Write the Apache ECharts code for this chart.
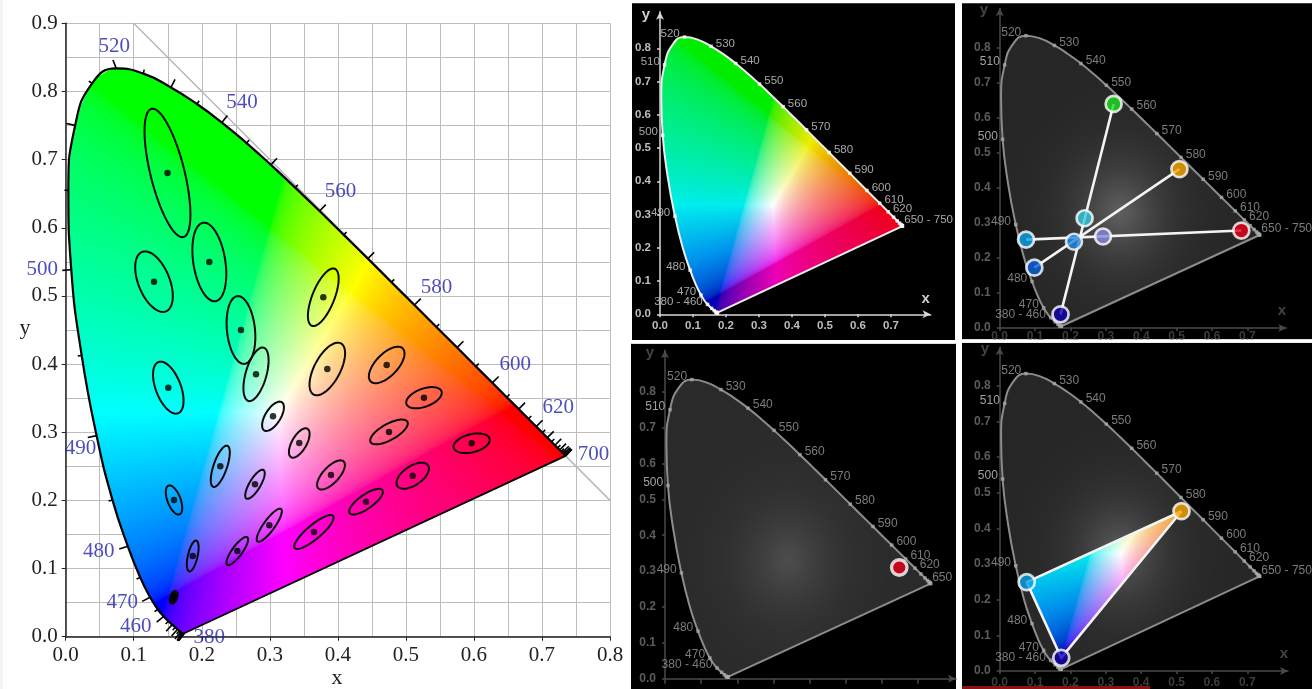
<!DOCTYPE html>
<html><head><meta charset="utf-8">
<style>html,body{margin:0;padding:0;background:#fff}#c{width:1315px;height:689px}</style>
<script src="https://cdn.jsdelivr.net/npm/echarts@6/dist/echarts.min.js"></script>
</head><body><div id="c"></div>
<script>
// ---------- data ----------
const wavelengths = [380,385,390,395,400,405,410,415,420,425,430,435,440,445,450,455,460,465,470,475,480,485,490,495,500,505,510,515,520,525,530,535,540,545,550,555,560,565,570,575,580,585,590,595,600,605,610,615,620,625,630,635,640,645,650,655,660,665,670,675,680,685,690,695,700];
const locusX = [.1741,.1740,.1738,.1736,.1733,.1730,.1726,.1721,.1714,.1703,.1689,.1669,.1644,.1611,.1566,.1510,.1440,.1355,.1241,.1096,.0913,.0687,.0454,.0235,.0082,.0039,.0139,.0389,.0743,.1142,.1547,.1929,.2296,.2658,.3016,.3373,.3731,.4087,.4441,.4788,.5125,.5448,.5752,.6029,.6270,.6482,.6658,.6801,.6915,.7006,.7079,.7140,.7190,.7230,.7260,.7283,.7300,.7311,.7320,.7327,.7334,.7340,.7344,.7346,.7347];
const locusY = [.0050,.0050,.0049,.0049,.0048,.0048,.0048,.0048,.0051,.0058,.0069,.0086,.0109,.0138,.0177,.0227,.0297,.0399,.0578,.0868,.1327,.2007,.2950,.4127,.5384,.6548,.7502,.8120,.8338,.8262,.8059,.7816,.7543,.7243,.6923,.6589,.6245,.5896,.5547,.5202,.4866,.4544,.4242,.3965,.3725,.3514,.3340,.3197,.3083,.2993,.2920,.2859,.2809,.2770,.2740,.2717,.2700,.2689,.2680,.2673,.2666,.2660,.2656,.2654,.2653];
const ellipseCx = [.1496,.2111,.1298,.2576,.2797,.1508,.1592,.1867,.1587,.2272,.3047,.3433,.2782,.2992,.2522,.3649,.3899,.4414,.51,.5967,.4752,.5266,.4718,.3845,.3786];
const ellipseCy = [.6804,.5498,.5209,.45,.385,.3654,.2006,.1184,.0578,.25,.3234,.2842,.2236,.1635,.1257,.1536,.2373,.1981,.2362,.2838,.3004,.3507,.3987,.3928,.498];
const ellipseA  = [.097,.0583,.047,.05,.0407,.0403,.0226,.0232,.0096,.0319,.0244,.0241,.0244,.0294,.025,.0368,.0272,.0294,.0272,.0272,.0309,.0274,.0338,.0426,.0451];
const ellipseB  = [.025,.0235,.023,.0206,.0153,.0184,.0096,.0071,.0051,.0099,.0112,.0107,.0081,.0081,.0074,.0103,.0118,.0103,.014,.0132,.0118,.0132,.0162,.0191,.0162];
const ellipseAngle = [104,99,112,96,74,111,111,77,70,71,58,60,59,54,54,40,47,35,34,14,29,20,46,62,68];
const leftWaveLabels = [520,540,560,580,600,620,700,500,490,480,470,460,380];
const axisValues = [0,.1,.2,.3,.4,.5,.6,.7,.8];
const rightLabels = [[520,'520','L'],[530,'530','R'],[540,'540','R'],[550,'550','R'],[560,'560','R'],[570,'570','R'],[580,'580','R'],[590,'590','R'],[600,'600','R'],[610,'610','R'],[620,'620','R'],[650,'650 - 750','R'],[510,'510','L'],[500,'500','L'],[490,'490','L'],[480,'480','L'],[470,'470','L'],[460,'380 - 460','L']];
// panel 2: three crossing lines through named points
const p2Names  = ['green','amber','red','cyan','sky','mid','violet','blue','navy'];
const p2X      = [.322,.508,.683,.24,.0745,.21,.292,.098,.172];
const p2Y      = [.639,.453,.278,.313,.252,.246,.261,.172,.039];
const p2Lines  = [['green','navy'],['amber','blue'],['sky','red']];
const p3X = [.648], p3Y = [.31];
const p4X = [.514,.0763,.174], p4Y = [.448,.249,.037];

// ---------- style ----------
const p2Colors = ['#22e022','#f5a800','#e8001a','#3cc8e0','#0ca0e8','#1e88e0','#8888e0','#0a60d8','#1000b0'];
const p4Colors = ['#f5a800','#0ca0e8','#1000b0'];
const leftLabelOffset = {520:[-2,-22],540:[20,-20],560:[21,-20],580:[22,-18],600:[23,-18],620:[22,-19],700:[28,-1],500:[-29,0],490:[-16,13],480:[-29,5],470:[-28,5],460:[-28,10],380:[25,4]};

function rgbOf(x,y){
  const z=1-x-y;
  let r=3.2406*x-1.5372*y-.4986*z, g=-.9689*x+1.8758*y+.0415*z, b=.0557*x-.204*y+1.057*z;
  r=Math.max(r,0);g=Math.max(g,0);b=Math.max(b,0);
  const m=Math.max(r,g,b)||1;
  return [Math.pow(r/m,1/2.2),Math.pow(g/m,1/2.2),Math.pow(b/m,1/2.2)];
}
const vivid=(x,y)=>rgbOf(x,y).map(v=>v*255);
const soft=(x,y)=>{
  const c=rgbOf(x-.03,y);
  const mn=Math.min(c[0],c[1],c[2]);
  const k=.93+.07*mn;
  const blueDark=.76+.24*Math.min(1,mn*3+c[1]*1.6);
  return [c[0]*k*255,c[1]*k*255,c[2]*k*blueDark*255];
};
const glow=(peak,base)=>(x,y)=>{
  const dx=(x-.34)/.12, dy=(y-.33)/.14;
  const d=Math.sqrt(dx*dx+dy*dy);
  const v=base+(peak-base)*Math.exp(-Math.pow(d,1.4));
  return [v,v,v];
};
// Catmull-Rom path of the spectral arc, only used to shape the colour mask
function arcPath(ctx,toPx){
  const n=locusPts.length;
  for(let i=0;i<n-1;i++){
    const p0=locusPts[Math.max(0,i-1)],p1=locusPts[i],p2=locusPts[i+1],p3=locusPts[Math.min(n-1,i+2)];
    for(let s=0;s<8;s++){
      const t=s/8,t2=t*t,t3=t2*t;
      const f=d=>.5*(2*p1[d]+(p2[d]-p0[d])*t+(2*p0[d]-5*p1[d]+4*p2[d]-p3[d])*t2+(3*p1[d]-p0[d]-3*p2[d]+p3[d])*t3);
      const q=toPx(f(0),f(1));
      (i||s)?ctx.lineTo(q[0],q[1]):ctx.moveTo(q[0],q[1]);
    }
  }
  const e=toPx(locusPts[n-1][0],locusPts[n-1][1]);ctx.lineTo(e[0],e[1]);
}
function paint(colorFn,xmax,ymax,poly){
  const W=Math.round(xmax*800),H=Math.round(ymax*800);
  const cv=document.createElement('canvas');cv.width=W;cv.height=H;
  const ctx=cv.getContext('2d');
  const img=ctx.createImageData(W,H);
  for(let j=0;j<H;j++){
    const y=ymax*(1-(j+.5)/H);
    for(let i=0;i<W;i++){
      const x=xmax*(i+.5)/W;
      const c=colorFn(x,y),o=(j*W+i)*4;
      img.data[o]=c[0];img.data[o+1]=c[1];img.data[o+2]=c[2];img.data[o+3]=255;
    }
  }
  ctx.putImageData(img,0,0);
  ctx.globalCompositeOperation='destination-in';
  ctx.beginPath();
  const toPx=(a,b)=>[a/xmax*W,(1-b/ymax)*H];
  if(poly) poly.forEach((p,i)=>{const q=toPx(p[0],p[1]);i?ctx.lineTo(q[0],q[1]):ctx.moveTo(q[0],q[1]);});
  else arcPath(ctx,toPx);
  ctx.closePath();ctx.fill();
  return cv;
}
const locusPts=wavelengths.map((w,i)=>[locusX[i],locusY[i]]);
const purpleLine=[locusPts[locusPts.length-1],locusPts[0]];
const grids=[],xAxes=[],yAxes=[],series=[];
function imageSeries(idx,canvas,xmax,ymax,z){
  return {type:'custom',xAxisIndex:idx,yAxisIndex:idx,z,silent:true,clip:false,data:[[0,0]],encode:{x:0,y:1},
    renderItem:(p,api)=>{const a=api.coord([0,ymax]),b=api.coord([xmax,0]);
      return {type:'image',style:{image:canvas,x:a[0],y:a[1],width:b[0]-a[0],height:b[1]-a[1]}};}};
}
function outlineSeries(idx,pts,color,width,z,smooth){
  return {type:'line',xAxisIndex:idx,yAxisIndex:idx,data:pts,showSymbol:false,smooth:!!smooth,smoothConstraint:false,silent:true,z,clip:false,
    lineStyle:{color,width,join:'round'},animation:false};
}
function darkPanel(idx,cfg){
  grids.push({left:cfg.x0,top:cfg.y0-cfg.ymax*cfg.sy,width:cfg.xmax*cfg.sx,height:cfg.ymax*cfg.sy});
  const xv=axisValues.slice(0,8),yv=axisValues;
  const axisLine={show:true,onZero:false,lineStyle:{color:cfg.axis,width:cfg.axisW},symbol:['none','arrow'],symbolSize:[6,8]};
  xAxes.push({type:'value',gridIndex:idx,min:0,max:cfg.xmax,splitLine:{show:false},axisLine,
    axisTick:{show:true,customValues:xv,length:cfg.tick||3,lineStyle:{color:cfg.axis,width:cfg.axisW}},
    axisLabel:{show:cfg.xLabels!==false,customValues:xv,margin:cfg.xMargin,color:cfg.xLabel,fontFamily:'Liberation Sans',fontSize:cfg.font,fontWeight:'bold',formatter:v=>v.toFixed(1)}});
  yAxes.push({type:'value',gridIndex:idx,min:0,max:cfg.ymax,splitLine:{show:false},axisLine,
    axisTick:{show:true,customValues:yv,length:3,lineStyle:{color:cfg.axis,width:cfg.axisW}},
    axisLabel:{customValues:yv,margin:9,color:cfg.yLabel,fontFamily:'Liberation Sans',fontSize:cfg.font,fontWeight:'bold',padding:[0,0,6,0],formatter:v=>v.toFixed(1)}});
  series.push(imageSeries(idx,paint(cfg.fill,.8,.9),.8,.9,1));
  series.push(outlineSeries(idx,locusPts,cfg.locus,cfg.locusW,2,true));
  series.push(outlineSeries(idx,purpleLine,cfg.locus,cfg.locusW,2));
  // wavelength squares every 10 nm, some of them labelled
  const sq=[];
  wavelengths.forEach((w,i)=>{
    if(w%10) return;
    const lab=rightLabels.find(r=>r[0]===w);
    const item={value:[locusX[i],locusY[i]]};
    if(lab){
      const isLeft=lab[2]==='L';
      let text=lab[1];
      if(cfg.tail&&w===650) text=cfg.tail;
      item.label={show:true,formatter:text,position:isLeft?'left':'right',distance:3,offset:[0,-3],
        color:(w===500||w===510)?cfg.bright:cfg.text,fontFamily:'Liberation Sans',fontSize:cfg.labelFont};
    }
    sq.push(item);
  });
  series.push({type:'scatter',xAxisIndex:idx,yAxisIndex:idx,symbol:'rect',symbolSize:3.5,z:6,clip:false,silent:true,
    itemStyle:{color:cfg.square},data:sq});
}
// ---------- panel 0: left ----------
grids.push({left:65.7,top:23.3,width:544.3,height:613.4});
const leftAxisBase=(max)=>({type:'value',min:0,max,interval:.1,
  axisLine:{show:true,onZero:false,lineStyle:{color:'#222',width:1.5}},
  axisTick:{show:true,length:4,lineStyle:{color:'#222',width:1}},
  minorTick:{show:false,splitNumber:2},
  splitLine:{show:true,lineStyle:{color:'#bdbdbd',width:1}},
  minorSplitLine:{show:true,lineStyle:{color:'#bdbdbd',width:1}},
  axisLabel:{color:'#222',fontFamily:'Liberation Serif',fontSize:21,margin:8,showMinLabel:true,showMaxLabel:true,formatter:v=>v.toFixed(1)}});
xAxes.push(Object.assign(leftAxisBase(.8),{gridIndex:0}));
yAxes.push(Object.assign(leftAxisBase(.9),{gridIndex:0}));
series.push({type:'line',xAxisIndex:0,yAxisIndex:0,data:[[.1,.9],[.8,.2]],showSymbol:false,silent:true,z:1,lineStyle:{color:'#b8b8b8',width:1.5}});
series.push(imageSeries(0,paint(vivid,.8,.9),.8,.9,2));
series.push(outlineSeries(0,locusPts,'#000',2.2,3,true));
series.push(outlineSeries(0,purpleLine,'#000',1.8,3));
series.push({type:'custom',xAxisIndex:0,yAxisIndex:0,z:3,silent:true,clip:false,
  data:wavelengths.map((w,i)=>[locusX[i],locusY[i],w,i]),encode:{x:0,y:1},
  renderItem:(p,api)=>{
    const i=api.value(3),w=api.value(2),n=locusPts.length;
    const P=k=>api.coord(locusPts[Math.max(0,Math.min(n-1,k))]);
    const c=P(i),ctr=api.coord([.33,.33]);
    let a,b,l=0,k=2;
    while(l<14&&k<n){a=P(i-k);b=P(i+k);l=Math.hypot(b[0]-a[0],b[1]-a[1]);k++;}
    let nx=(b[1]-a[1])/l,ny=-(b[0]-a[0])/l;
    if(nx*(c[0]-ctr[0])+ny*(c[1]-ctr[1])<0){nx=-nx;ny=-ny;}
    const len=w%10===0?9:4;
    return {type:'line',shape:{x1:c[0],y1:c[1],x2:c[0]+nx*len,y2:c[1]+ny*len},style:{stroke:'#000',lineWidth:1.6}};
  }});
series.push({type:'custom',xAxisIndex:0,yAxisIndex:0,z:4,silent:true,clip:false,
  data:ellipseCx.map((c,i)=>[c,ellipseCy[i],ellipseA[i],ellipseB[i],ellipseAngle[i]]),encode:{x:0,y:1},
  renderItem:(p,api)=>{
    const cx=api.value(0),cy=api.value(1),a=api.value(2),b=api.value(3),t=api.value(4)*Math.PI/180,pts=[];
    for(let k=0;k<64;k++){const u=k/64*2*Math.PI,ex=a*Math.cos(u),ey=b*Math.sin(u);
      pts.push(api.coord([cx+ex*Math.cos(t)-ey*Math.sin(t),cy+ex*Math.sin(t)+ey*Math.cos(t)]));}
    return {type:'polygon',shape:{points:pts},style:{fill:a<.012?'#0a0a0a':'none',stroke:'#0a0a0a',lineWidth:2}};
  }});
series.push({type:'scatter',xAxisIndex:0,yAxisIndex:0,z:5,silent:true,symbolSize:6.5,itemStyle:{color:'#000'},
  data:ellipseCx.map((c,i)=>[c,ellipseCy[i]])});
series.push({type:'scatter',xAxisIndex:0,yAxisIndex:0,z:6,silent:true,symbolSize:0,clip:false,
  data:leftWaveLabels.map(w=>{const i=wavelengths.indexOf(w);return {value:[locusX[i],locusY[i]],
    label:{show:true,position:'inside',formatter:String(w),offset:leftLabelOffset[w],color:'#2222aa',fontFamily:'Liberation Serif',fontSize:21}};})});
// ---------- dark panels ----------
const dim={axis:'#4a4a4a',axisW:1.5,xLabel:'#3c3c3c',yLabel:'#5c5c5c',locus:'#8c8c8c',locusW:2,square:'#a8a8a8',text:'#9a9a9a',bright:'#c8c8c8',labelFont:12,font:12};
darkPanel(1,{x0:660,y0:314.3,sx:330,sy:332.5,xmax:.82,ymax:.91,axis:'#d8d8d8',axisW:1.5,xLabel:'#bdbdbd',yLabel:'#bdbdbd',xMargin:6,fill:soft,locus:'#eeeeee',locusW:2,square:'#ffffff',text:'#cfcfcf',bright:'#cfcfcf',labelFont:11.5,font:11.5});
darkPanel(2,Object.assign({},dim,{x0:999.7,y0:328,sx:353.8,sy:350.6,xmax:.81,ymax:.912,xMargin:3,fill:glow(94,38)}));
darkPanel(3,Object.assign({},dim,{x0:665,y0:678.7,sx:361.5,sy:358.7,xmax:.805,ymax:.916,xMargin:3,xLabels:false,tick:5,fill:glow(76,42),tail:'650'}));
darkPanel(4,Object.assign({},dim,{x0:999.7,y0:671.3,sx:353.7,sy:357,xmax:.815,ymax:.908,xMargin:6,fill:glow(90,38)}));
const p2Pos=n=>{const i=p2Names.indexOf(n);return [p2X[i],p2Y[i]];};
p2Lines.forEach(l=>series.push(outlineSeries(2,[p2Pos(l[0]),p2Pos(l[1])],'#f4f4f4',2.6,7)));
const markers=(idx,xs,ys,cols,size,bw)=>({type:'scatter',xAxisIndex:idx,yAxisIndex:idx,z:8,silent:true,clip:false,symbolSize:size,
  data:xs.map((x,i)=>({value:[x,ys[i]],itemStyle:{color:cols[i],borderColor:'#fff',borderWidth:bw}}))});
series.push(markers(2,p2X,p2Y,p2Colors,16,2.7));
series.push(markers(3,p3X,p3Y,['#e8001a'],15.5,3.3));
const triPts=p4X.map((x,i)=>[x,p4Y[i]]);
series.push(imageSeries(4,paint(soft,.8,.9,triPts),.8,.9,7));
series.push(outlineSeries(4,triPts.concat([triPts[0]]),'#f4f4f4',2.6,7));
series.push(markers(4,p4X,p4Y,p4Colors,16,2.7));

const rect=(x,y,w,h,fill,z)=>({type:'rect',z:z||0,shape:{x,y,width:w,height:h},style:{fill},silent:true});
const label=(x,y,t,font,fill)=>({type:'text',z:50,x,y,silent:true,style:{text:t,font,fill,textAlign:'center',textVerticalAlign:'middle'}});
const chart=echarts.init(document.getElementById('c'),null,{renderer:'canvas',width:1315,height:689});
chart.setOption({animation:false,backgroundColor:'#ffffff',grid:grids,xAxis:xAxes,yAxis:yAxes,series,
  graphic:{elements:[
    rect(0,0,3,689,'#f4f4f4'),
    rect(632,3.3,323,336.7,'#000'),rect(962,3.3,350,336,'#000'),rect(631,343.7,325,346,'#000'),rect(962,342.7,350,347,'#000'),
    rect(632,340,323,3.5,'#fff',40),rect(962,339.4,350,3.4,'#fff',40),rect(962,686,188,3,'#8a1212',40),
    label(337,678,'x','22px "Liberation Serif"','#222'),label(25,328,'y','22px "Liberation Serif"','#222'),
    label(646,14.5,'y','bold 15px "Liberation Sans"','#cfcfcf'),label(925.7,299,'x','bold 15px "Liberation Sans"','#cfcfcf'),
    label(984,10,'y','bold 15px "Liberation Sans"','#444'),label(1282,311,'x','bold 15px "Liberation Sans"','#444'),
    label(650,353,'y','bold 15px "Liberation Sans"','#444'),
    label(985,349,'y','bold 15px "Liberation Sans"','#444'),label(1284,654,'x','bold 15px "Liberation Sans"','#444')
  ]}});
</script></body></html>
